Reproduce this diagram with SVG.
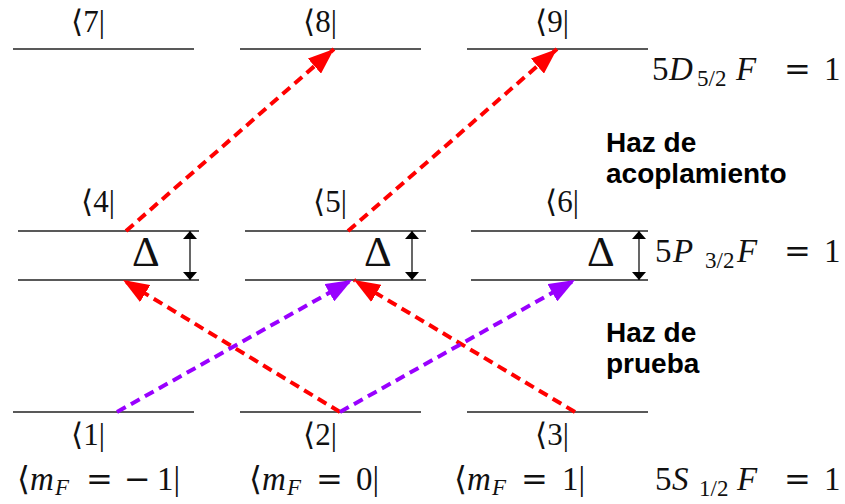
<svg xmlns="http://www.w3.org/2000/svg" width="845" height="504" viewBox="0 0 845 504">
<style>
.lvl{stroke:#222;stroke-width:1.4;fill:none}
.lbl{font-family:"Liberation Serif","DejaVu Serif",serif;font-size:31px;fill:#111;text-anchor:middle}
.math{font-family:"Liberation Serif","DejaVu Serif",serif;font-size:33px;fill:#111}
.it{font-style:italic}
.sub{font-size:23px}
.op{font-family:"DejaVu Serif",serif;font-size:32px}
.del{font-family:"Liberation Serif","DejaVu Serif",serif;font-size:43px;fill:#111}
.bold{font-family:"Liberation Sans",Arial,sans-serif;font-weight:bold;font-size:28px;fill:#000}
.red{stroke:#ff0000;stroke-width:4;stroke-dasharray:10 6;fill:none}
.pur{stroke:#9900ff;stroke-width:4;stroke-dasharray:10 6;fill:none}
.det{stroke:#000;stroke-width:1.2;fill:none}
</style>
<defs>
<marker id="hr" viewBox="0 0 26 20" refX="26" refY="10" markerWidth="26" markerHeight="20" markerUnits="userSpaceOnUse" orient="auto"><path d="M0,0 L26,10 L0,20 Z" fill="#ff0000"/></marker>
<marker id="hp" viewBox="0 0 26 20" refX="26" refY="10" markerWidth="26" markerHeight="20" markerUnits="userSpaceOnUse" orient="auto"><path d="M0,0 L26,10 L0,20 Z" fill="#9900ff"/></marker>
<marker id="hb" viewBox="0 0 8 14" refX="8" refY="7" markerWidth="8" markerHeight="14" markerUnits="userSpaceOnUse" orient="auto"><path d="M0,0 L8,7 L0,14 Z" fill="#000"/></marker>
</defs>

<g id="level7"><line class="lvl" x1="13" y1="49" x2="194" y2="49"/><text class="lbl" x="88" y="32">⟨7|</text></g>
<g id="level8"><line class="lvl" x1="240" y1="49" x2="421" y2="49"/><text class="lbl" x="320" y="32">⟨8|</text></g>
<g id="level9"><line class="lvl" x1="467" y1="49" x2="648" y2="49"/><text class="lbl" x="552" y="32">⟨9|</text></g>

<g id="level4"><line class="lvl" x1="18" y1="231" x2="199" y2="231"/><line class="lvl" x1="18" y1="280" x2="199" y2="280"/><text class="lbl" x="98" y="212">⟨4|</text><text class="del" x="132" y="266">Δ</text></g>
<g id="level5"><line class="lvl" x1="245" y1="231" x2="426" y2="231"/><line class="lvl" x1="245" y1="280" x2="426" y2="280"/><text class="lbl" x="330" y="212">⟨5|</text><text class="del" x="364" y="266">Δ</text></g>
<g id="level6"><line class="lvl" x1="471" y1="231" x2="648" y2="231"/><line class="lvl" x1="471" y1="280" x2="648" y2="280"/><text class="lbl" x="562" y="212">⟨6|</text><text class="del" x="587" y="266">Δ</text></g>

<g id="level1"><line class="lvl" x1="13" y1="412" x2="194" y2="412"/><text class="lbl" x="88" y="445">⟨1|</text>
<text class="math" y="490"><tspan x="17">⟨</tspan><tspan class="it" x="30">m</tspan><tspan class="it sub" x="55" dy="5">F</tspan><tspan class="op" x="86" dy="-5">=</tspan><tspan class="op" x="124">−</tspan><tspan x="157">1|</tspan></text></g>
<g id="level2"><line class="lvl" x1="240" y1="412" x2="421" y2="412"/><text class="lbl" x="320" y="445">⟨2|</text>
<text class="math" y="490"><tspan x="249">⟨</tspan><tspan class="it" x="262">m</tspan><tspan class="it sub" x="287" dy="5">F</tspan><tspan class="op" x="316" dy="-5">=</tspan><tspan x="356">0|</tspan></text></g>
<g id="level3"><line class="lvl" x1="467" y1="412" x2="648" y2="412"/><text class="lbl" x="552" y="445">⟨3|</text>
<text class="math" y="490"><tspan x="454">⟨</tspan><tspan class="it" x="467">m</tspan><tspan class="it sub" x="492" dy="5">F</tspan><tspan class="op" x="521" dy="-5">=</tspan><tspan x="562">1|</tspan></text></g>

<g id="manifoldD"><text class="math" y="80"><tspan x="652">5</tspan><tspan class="it" x="669">D</tspan><tspan class="sub" x="697" dy="6">5/2</tspan><tspan class="it" x="736" dy="-6">F</tspan><tspan class="op" x="784">=</tspan><tspan x="824">1</tspan></text></g>
<g id="manifoldP"><text class="math" y="262"><tspan x="655">5</tspan><tspan class="it" x="673">P</tspan><tspan class="sub" x="705" dy="6">3/2</tspan><tspan class="it" x="737" dy="-6">F</tspan><tspan class="op" x="784">=</tspan><tspan x="824">1</tspan></text></g>
<g id="manifoldS"><text class="math" y="490"><tspan x="655">5</tspan><tspan class="it" x="672">S</tspan><tspan class="sub" x="699" dy="6">1/2</tspan><tspan class="it" x="737" dy="-6">F</tspan><tspan class="op" x="784">=</tspan><tspan x="824">1</tspan></text></g>

<g id="coupling-label"><text class="bold" x="606" y="152">Haz de</text><text class="bold" x="606" y="183">acoplamiento</text></g>
<g id="probe-label"><text class="bold" x="606" y="342">Haz de</text><text class="bold" x="606" y="373">prueba</text></g>

<g id="connectors">
<line class="red" x1="126" y1="231" x2="334" y2="49" marker-end="url(#hr)"/>
<line class="red" x1="348" y1="231" x2="557" y2="49" marker-end="url(#hr)"/>
<line class="red" x1="340" y1="412" x2="123" y2="280" marker-end="url(#hr)"/>
<line class="red" x1="575" y1="412" x2="354" y2="280" marker-end="url(#hr)"/>
<line class="pur" x1="117" y1="412" x2="352" y2="280" marker-end="url(#hp)"/>
<line class="pur" x1="340" y1="412" x2="575" y2="280" marker-end="url(#hp)"/>
<line class="det" x1="190" y1="255" x2="190" y2="231" marker-end="url(#hb)"/>
<line class="det" x1="190" y1="255" x2="190" y2="280" marker-end="url(#hb)"/>
<line class="det" x1="412" y1="255" x2="412" y2="231" marker-end="url(#hb)"/>
<line class="det" x1="412" y1="255" x2="412" y2="280" marker-end="url(#hb)"/>
<line class="det" x1="639" y1="255" x2="639" y2="231" marker-end="url(#hb)"/>
<line class="det" x1="639" y1="255" x2="639" y2="280" marker-end="url(#hb)"/>
</g>
</svg>
